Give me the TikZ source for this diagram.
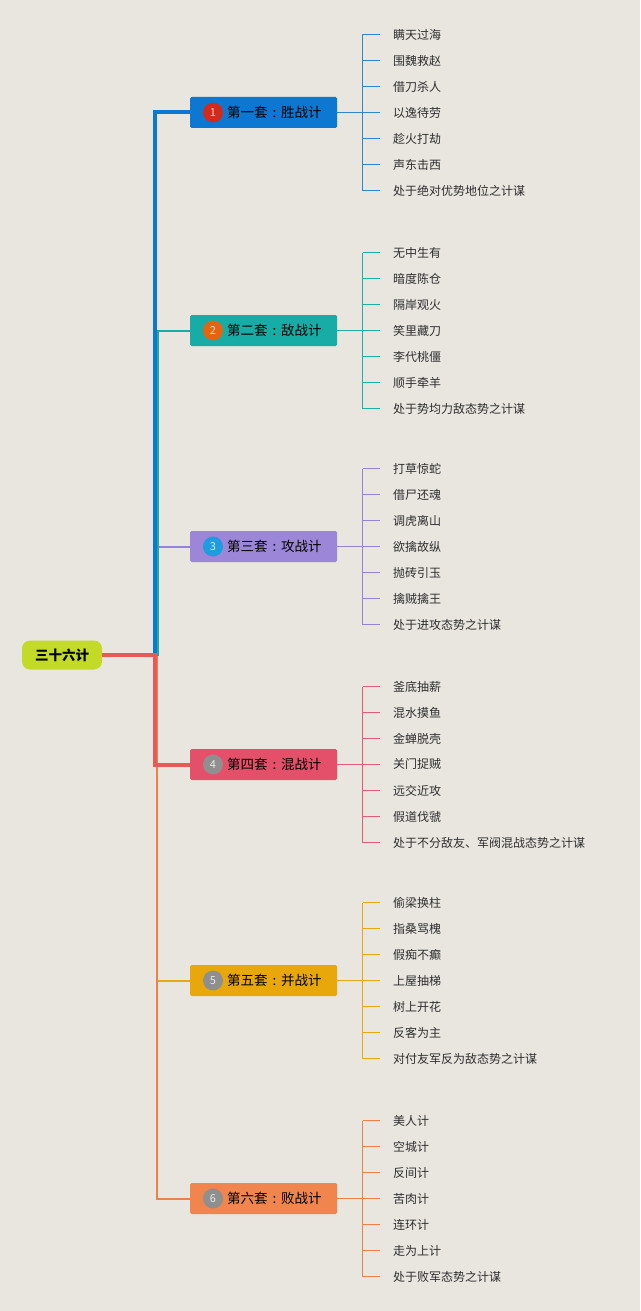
\documentclass[tikz,border=0pt]{standalone}
\usepackage{fontspec}
\setmainfont{Noto Sans CJK SC}
\definecolor{bg}{HTML}{E9E6E0}
\definecolor{rootc}{HTML}{C3DA27}
\definecolor{grpA}{HTML}{0C78D1}\definecolor{leafA}{HTML}{2F84D4}\definecolor{icoA}{HTML}{D42A1C}
\definecolor{grpB}{HTML}{17ADA6}\definecolor{leafB}{HTML}{1EAFA5}\definecolor{icoB}{HTML}{E4640F}
\definecolor{grpC}{HTML}{9C86D8}\definecolor{leafC}{HTML}{9682D8}\definecolor{icoC}{HTML}{1E9CE0}
\definecolor{grpD}{HTML}{E4506A}\definecolor{leafD}{HTML}{E25C76}\definecolor{trunkD}{HTML}{E65A58}
\definecolor{grpE}{HTML}{E8A80C}\definecolor{leafE}{HTML}{E8A814}
\definecolor{grpF}{HTML}{F0854D}\definecolor{leafF}{HTML}{EF8048}
\definecolor{icoG}{HTML}{8F8F8F}
\definecolor{txt}{HTML}{2E2E2E}
\tikzset{
  rootbox/.style={fill=rootc, rounded corners=8pt, minimum width=80pt, minimum height=29pt, inner sep=0pt, font=\fontsize{13.5}{14}\selectfont\bfseries, text=black},
  groupbox/.style={rounded corners=1.5pt, minimum width=147pt, minimum height=31pt, inner sep=0pt, anchor=west},
  grouptext/.style={font=\fontsize{13.5}{14}\selectfont, text=black, anchor=west, inner sep=0pt},
  icon/.style={circle, minimum size=20pt, inner sep=0pt, font=\fontsize{11}{11}\selectfont},
  leaf/.style={anchor=west, inner sep=0pt, font=\fontsize{12}{13}\selectfont, text=txt},
  leafline/.style={line width=1.4pt},
}
\newcommand{\kcolon}{\makebox[13.5pt][c]{:}}
\begin{document}
\begin{tikzpicture}[x=1pt,y=-1pt]
\useasboundingbox (0,0) rectangle (640,1311);
\fill[bg] (0,0) rectangle (640,1311);
\node[rootbox] (root) at (62,655) {三十六计};
\coordinate (trunk) at (155,655);
% groups
\foreach \i/\gcol/\icol/\yy/\ta/\tb/\num in {
  1/grpA/icoA/112.5/第一套/胜战计/1,
  2/grpB/icoB/330.5/第二套/敌战计/2,
  3/grpC/icoC/546.5/第三套/攻战计/3,
  4/grpD/icoG/764.5/第四套/混战计/4,
  5/grpE/icoG/980.5/第五套/并战计/5,
  6/grpF/icoG/1198.5/第六套/败战计/6}{
  \node[groupbox, fill=\gcol] (g\i) at (190,\yy) {};
  \node[icon, fill=\icol, text=white!80!\icol] (ic\i) at (213,\yy) {\num};
  \node[grouptext] (gt\i) at (227,\yy) {\ta\kcolon\tb};
}
% branches (thin first, thick last)
\draw[draw=leafE, line width=2pt] (root.east) -- ([xshift=2pt]trunk) |- (g5.west);
\draw[draw=leafF, line width=2pt] (root.east) -- ([xshift=2pt]trunk) |- (g6.west);
\draw[draw=leafC, line width=2pt] (root.east) -- ([xshift=3pt]trunk) |- (g3.west);
\draw[draw=grpB, line width=2pt] (root.east) -- ([xshift=2.5pt]trunk) |- (g2.west);
\draw[draw=grpA, line width=4pt] (root.east) -- (trunk) |- (g1.west);
\draw[draw=trunkD, line width=4pt] (root.east) -- (trunk) |- (g4.west);
% leaves
\foreach \i/\lcol/\yy/\items in {
  1/leafA/112.5/{瞒天过海,围魏救赵,借刀杀人,以逸待劳,趁火打劫,声东击西,处于绝对优势地位之计谋},
  2/leafB/330.5/{无中生有,暗度陈仓,隔岸观火,笑里藏刀,李代桃僵,顺手牵羊,处于势均力敌态势之计谋},
  3/leafC/546.5/{打草惊蛇,借尸还魂,调虎离山,欲擒故纵,抛砖引玉,擒贼擒王,处于进攻态势之计谋},
  4/leafD/764.5/{釜底抽薪,混水摸鱼,金蝉脱壳,关门捉贼,远交近攻,假道伐虢,处于不分敌友、军阀混战态势之计谋},
  5/leafE/980.5/{偷梁换柱,指桑骂槐,假痴不癫,上屋抽梯,树上开花,反客为主,对付友军反为敌态势之计谋},
  6/leafF/1198.5/{美人计,空城计,反间计,苦肉计,连环计,走为上计,处于败军态势之计谋}}{
  \coordinate (b\i) at (362.5,\yy);
  \foreach \t [count=\k] in \items {
    \node[leaf] (l\i-\k) at (393,{\yy+26*(\k-4)}) {\t};
    \draw[draw=\lcol, leafline] (b\i |- l\i-\k.west) -- ([xshift=-13pt]l\i-\k.west);
  }
  \draw[draw=\lcol, leafline] (g\i.east) -- (b\i);
  \draw[draw=\lcol, leafline] (b\i |- l\i-1.west) -- (b\i |- l\i-7.west);
}
\end{tikzpicture}
\end{document}
